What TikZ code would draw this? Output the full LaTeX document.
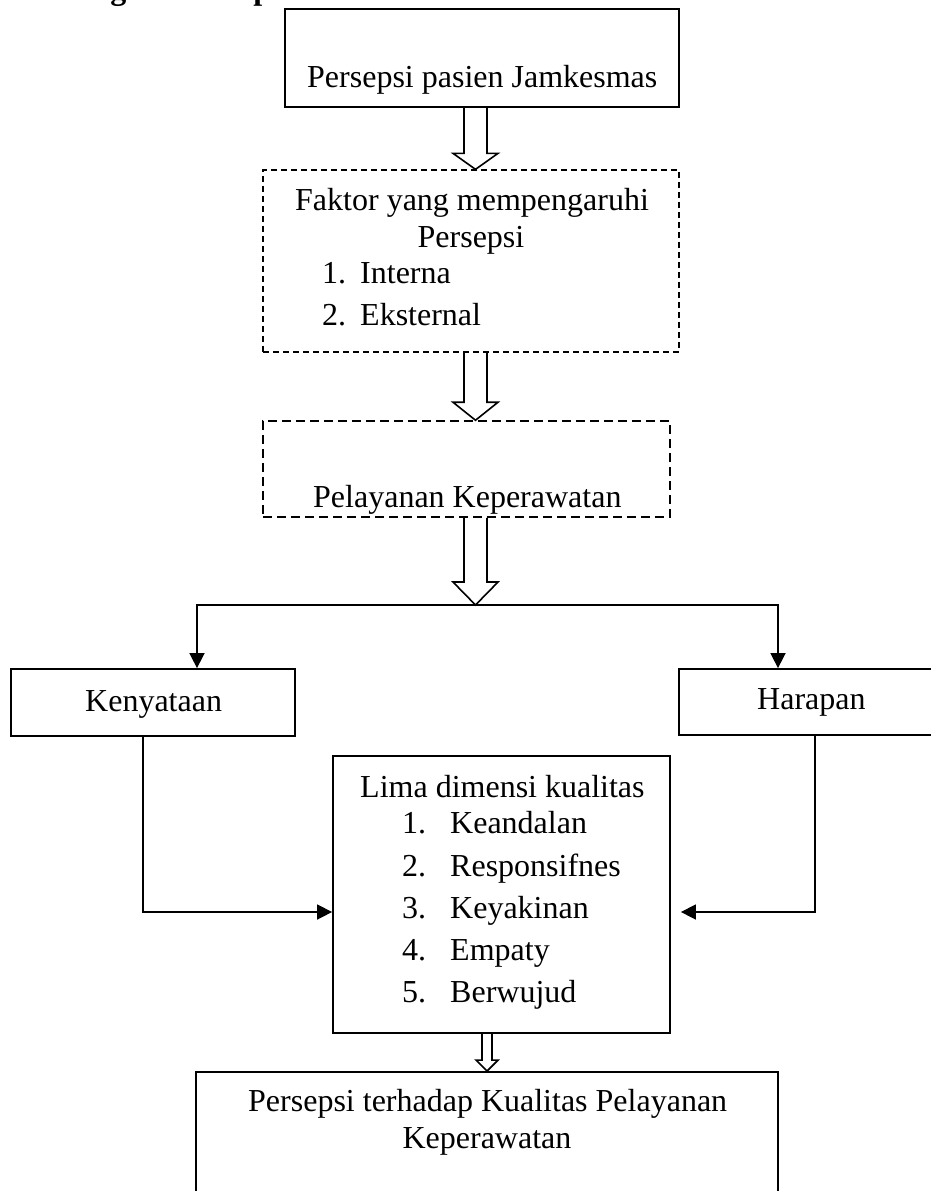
\documentclass[tikz,border=0pt]{standalone}
\usepackage{fontspec}
\setmainfont{Liberation Serif}
\usetikzlibrary{calc,arrows.meta}
\tikzset{
  txt/.style={inner sep=0pt, anchor=base west, font=\fontsize{32}{38}\selectfont},
  txtc/.style={inner sep=0pt, anchor=base, font=\fontsize{32}{38}\selectfont},
  solidbox/.style={draw, line width=1.8pt, inner sep=0pt, rectangle},
  dashbox/.style={draw, line width=1.3pt, dash pattern=on 6pt off 4pt, inner sep=0pt, rectangle},
  dashboxb/.style={draw, line width=1.5pt, dash pattern=on 9pt off 5pt, inner sep=0pt, rectangle},
  conn/.style={line width=1.6pt},
  tip/.style={-{Triangle[length=15pt,width=15pt]}},
  barrow/.style={line width=1.6pt, line join=miter}
}
\newcommand{\blockarr}[6]{%
  \draw[barrow] ($(#1 |- #2)+(-#5,0)$) -- ($(#1 |- #3)+(-#5,-#4)$) -- ($(#1 |- #3)+(-#6,-#4)$) -- (#1 |- #3) -- ($(#1 |- #3)+(#6,-#4)$) -- ($(#1 |- #3)+(#5,-#4)$) -- ($(#1 |- #2)+(#5,0)$);}
\begin{document}
\begin{tikzpicture}[x=1pt,y=-1pt]
\useasboundingbox[fill=white] (0,0) rectangle (931,1191);

% heading (cut off at top)
\node[txt, font=\fontsize{32}{38}\selectfont\bfseries] (head) at (23,-1) {Kerangka Konsep};

% boxes
\node[solidbox, minimum width=394pt, minimum height=98pt] (box1) at (482,58) {};
\node[dashbox, minimum width=416pt, minimum height=182pt] (box2) at (471,261) {};
\node[dashboxb, minimum width=407pt, minimum height=96pt] (box3) at (466.5,469) {};
\node[solidbox, minimum width=284pt, minimum height=67pt] (keny) at (153,702.5) {};
\node[solidbox, minimum width=266pt, minimum height=66pt] (harap) at (812,702) {};
\node[solidbox, minimum width=337pt, minimum height=277pt] (lima) at (501.5,894.5) {};
\node[solidbox, minimum width=582pt, minimum height=133pt] (hasil) at (487,1138.5) {};

% texts
\node[txt] (t1) at (307,87) {Persepsi pasien Jamkesmas};
\node[txt] (t2a) at (295,210) {Faktor yang mempengaruhi};
\node[txtc] (t2b) at (471,247) {Persepsi};
\node[txt] (t2n1) at (322,283) {1.};
\node[txt] (t2i1) at (360,283) {Interna};
\node[txt] (t2n2) at (322,325) {2.};
\node[txt] (t2i2) at (360,325) {Eksternal};
\node[txt] (t3) at (313,507) {Pelayanan Keperawatan};
\node[txt] (tk) at (85,711) {Kenyataan};
\node[txt] (th) at (757,709) {Harapan};
\node[txt] (tl) at (360,797) {Lima dimensi kualitas};
\node[txt] (ln1) at (402,833) {1.};
\node[txt] (li1) at (450,833) {Keandalan};
\node[txt] (ln2) at (402,876) {2.};
\node[txt] (li2) at (450,876) {Responsifnes};
\node[txt] (ln3) at (402,918) {3.};
\node[txt] (li3) at (450,918) {Keyakinan};
\node[txt] (ln4) at (402,960) {4.};
\node[txt] (li4) at (450,960) {Empaty};
\node[txt] (ln5) at (402,1002) {5.};
\node[txt] (li5) at (450,1002) {Berwujud};
\node[txt] (tb1) at (248,1111) {Persepsi terhadap Kualitas Pelayanan};
\node[txtc] (tb2) at (487,1148) {Keperawatan};

% helper coordinates
\coordinate (ax) at (475.5,0);
\coordinate (bx) at (487,0);
\coordinate (split) at (475.5,605);
\coordinate (kx) at (197,0);
\coordinate (hx) at (778,0);
\coordinate (kx2) at (143,0);
\coordinate (hx2) at (815,0);
\coordinate (ay) at (0,912);

% block arrows
\blockarr{ax}{box1.south}{box2.north}{16}{11.5}{22.5}
\blockarr{ax}{box2.south}{box3.north}{18}{11.5}{22.5}
\blockarr{ax}{box3.south}{split}{23}{11.5}{22.5}
\blockarr{bx}{lima.south}{hasil.north}{11}{5}{11}

% branches
\draw[conn, tip] (split) -| (kx |- keny.north);
\draw[conn, tip] (split) -| (hx |- harap.north);
\draw[conn, tip] (kx2 |- keny.south) |- (lima.west |- ay);
\draw[conn, tip] (hx2 |- harap.south) |- ($(lima.east |- ay)+(10,0)$);
\end{tikzpicture}
\end{document}
